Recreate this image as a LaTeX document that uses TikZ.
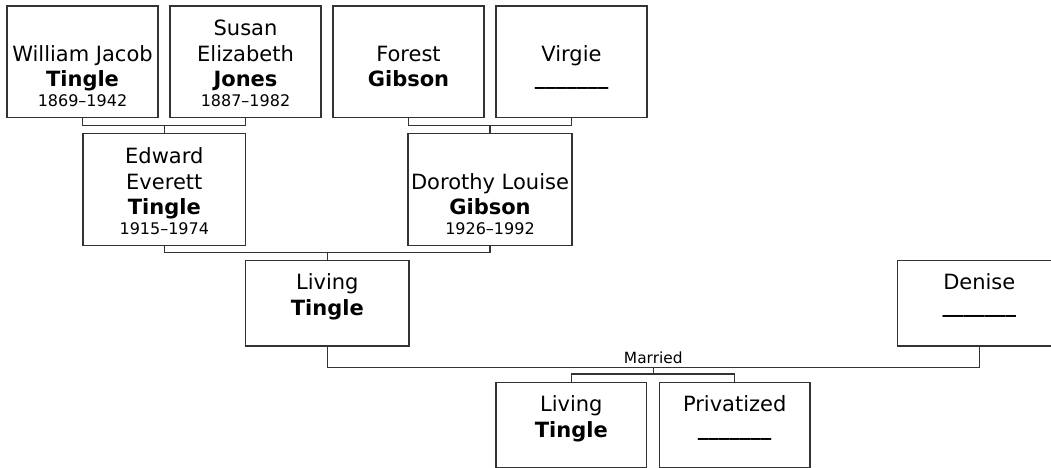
\documentclass[tikz,border=0pt]{standalone}
\usepackage{fontspec}
\setmainfont{DejaVu Sans}
\usepackage{xcolor}
\definecolor{ink}{HTML}{333333}
\usepackage{tikz}
\newcommand\datefont{\fontsize{16bp}{20bp}\selectfont}
\newcommand\blank{\raisebox{2.5bp}{\textbf{\_\_\_\_\_\_\_}}}

\begin{document}
\begin{tikzpicture}[x=1bp,y=-1bp,line width=1.2bp,every node/.style={font=\fontsize{21bp}{25.7bp}\selectfont},
  box/.style={draw=ink,inner sep=0pt,text depth=10.5bp},
  tall/.style={box,text height=101bp},
  short/.style={box,text height=74.8bp}]
\path[use as bounding box,fill=white] (0,0) rectangle (1051,468);
\node[tall,minimum width=151bp] (W) at (82.5,61.75) {\begin{tabular}[b]{@{}c@{}}William Jacob\\\textbf{Tingle}\\[-5.7bp]\datefont 1869–1942\end{tabular}};
\node[tall,minimum width=151bp] (S) at (245.5,61.75) {\begin{tabular}[b]{@{}c@{}}Susan\\Elizabeth\\\textbf{Jones}\\[-5.7bp]\datefont 1887–1982\end{tabular}};
\node[tall,minimum width=151bp] (F) at (408.5,61.75) {\begin{tabular}[b]{@{}c@{}}Forest\\\textbf{Gibson}\\[-5.7bp]\mbox{}\end{tabular}};
\node[tall,minimum width=151bp] (V) at (571.5,61.75) {\begin{tabular}[b]{@{}c@{}}Virgie\\\blank\\[-5.7bp]\mbox{}\end{tabular}};
\node[tall,text height=101.5bp,minimum width=162.7bp] (E) at (164.3,189.3) {\begin{tabular}[b]{@{}c@{}}Edward\\Everett\\\textbf{Tingle}\\[-5.7bp]\datefont 1915–1974\end{tabular}};
\node[tall,text height=101.5bp,minimum width=164bp] (D) at (490,189.3) {\begin{tabular}[b]{@{}c@{}}Dorothy Louise\\\textbf{Gibson}\\[-5.7bp]\datefont 1926–1992\end{tabular}};
\node[short,minimum width=163.3bp] (L) at (327.3,303.35) {\begin{tabular}[b]{@{}c@{}}Living\\\textbf{Tingle}\\[-5.7bp]\mbox{}\end{tabular}};
\node[short,minimum width=163.3bp] (N) at (979.3,303.35) {\begin{tabular}[b]{@{}c@{}}Denise\\\blank\\[-5.7bp]\mbox{}\end{tabular}};
\node[short,minimum width=150.7bp] (K) at (571.3,425.35) {\begin{tabular}[b]{@{}c@{}}Living\\\textbf{Tingle}\\[-5.7bp]\mbox{}\end{tabular}};
\node[short,minimum width=150.7bp] (P) at (734.7,425.35) {\begin{tabular}[b]{@{}c@{}}Privatized\\\blank\\[-5.7bp]\mbox{}\end{tabular}};
\draw[ink] (W.south) -- ++(0,7.8) -| (S.south);
\draw[ink] (E.north) -- ++(0,-8);
\draw[ink] (F.south) -- ++(0,7.8) -| (V.south);
\draw[ink] (D.north) -- ++(0,-8);
\draw[ink] (E.south) -- ++(0,7) -| (D.south);
\draw[ink] (L.north) -- ++(0,-8.4);
\draw[ink] (L.south) -- ++(0,20.7) coordinate (Lm) -- coordinate (J) (Lm -| N.south) -- (N.south);
\node[anchor=base,inner sep=0pt,font=\fontsize{15.4bp}{18bp}\selectfont] (M) at ([yshift=4bp]J) {Married};
\draw[ink] (J) -- ++(0,8);
\draw[ink] (K.north) -- ++(0,-8) -| (P.north);
\end{tikzpicture}
\end{document}
